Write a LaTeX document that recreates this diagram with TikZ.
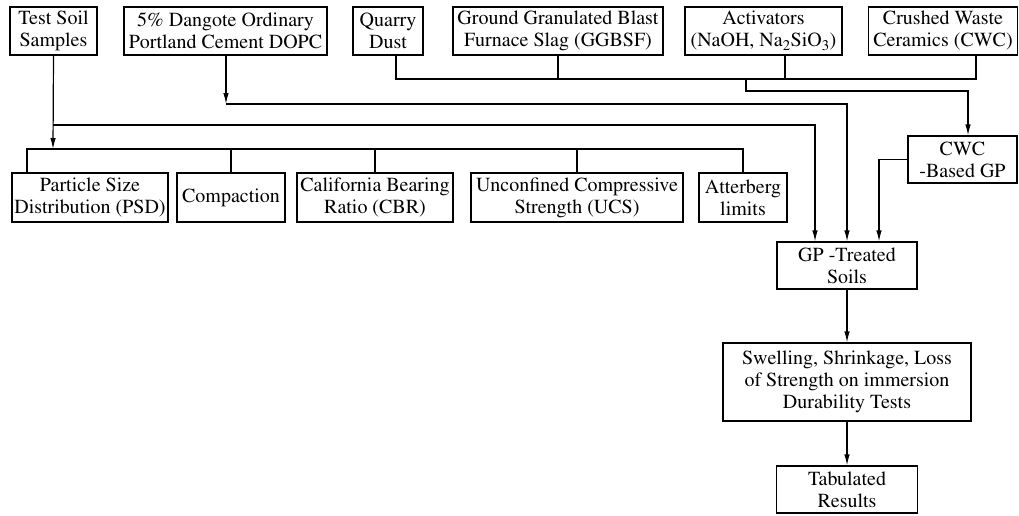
\documentclass[tikz,border=0pt]{standalone}
\usepackage[T1]{fontenc}
\usepackage{mathptmx}
\usetikzlibrary{arrows.meta}
\begin{document}
\begin{tikzpicture}[x=1pt,y=-1pt,
  box/.style={draw, line width=1.2pt, inner sep=0pt, align=center,
    font=\fontsize{20}{22}\selectfont},
  conn/.style={line width=1.2pt},
  arr/.style={conn,-{Latex[length=11pt,width=5.5pt]}}]
\useasboundingbox[fill=white] (0,0) rectangle (1019,515);
% top row
\node[box, minimum width=87pt, minimum height=48pt] (ts) at (53.5,31) {Test Soil\\Samples};
\node[box, minimum width=203pt, minimum height=48pt] (dopc) at (225.5,31) {5\% Dangote Ordinary\\Portland Cement DOPC};
\node[box, minimum width=70pt, minimum height=48pt] (qd) at (388,31) {Quarry\\Dust};
\node[box, minimum width=210pt, minimum height=48pt] (ggbsf) at (558,31) {Ground Granulated Blast\\Furnace Slag (GGBSF)};
\node[box, minimum width=157pt, minimum height=48pt] (act) at (763.5,31) {Activators\\(NaOH, Na\textsubscript{2}SiO\textsubscript{3})};
\node[box, minimum width=149pt, minimum height=48pt] (cwc) at (943,31) {Crushed Waste\\Ceramics (CWC)};
% test row
\node[box, minimum width=156pt, minimum height=49pt] (psd) at (90,197.5) {Particle Size\\Distribution (PSD)};
\node[box, minimum width=108pt, minimum height=49pt] (comp) at (231,197.5) {Compaction};
\node[box, minimum width=156pt, minimum height=49pt] (cbr) at (375,197.5) {California Bearing\\Ratio (CBR)};
\node[box, minimum width=212pt, minimum height=49pt] (ucs) at (577,197.5) {Unconfined Compressive\\Strength (UCS)};
\node[box, minimum width=88pt, minimum height=49pt] (att) at (743,197.5) {Atterberg\\limits};
% right column
\node[box, minimum width=109pt, minimum height=47pt] (cwcgp) at (962.5,159.5) {CWC\\-Based GP};
\node[box, minimum width=140pt, minimum height=47pt] (gpt) at (847,265.5) {GP -Treated\\Soils};
\node[box, minimum width=248pt, minimum height=78pt] (sw) at (847,382) {Swelling, Shrinkage, Loss\\of Strength on immersion\\Durability Tests};
\node[box, minimum width=141pt, minimum height=47pt] (tab) at (847,489.5) {Tabulated\\Results};
% coordinates
\coordinate (tsA) at (53,125);
\coordinate (tsB) at (53,149);
\coordinate (L) at (27,149);
\coordinate (R) at (743,149);
\coordinate (dA) at (226,104);
\coordinate (q1) at (396,79);
\coordinate (a1) at (785,79);
\coordinate (c1) at (976,79);
\coordinate (m1) at (746,79);
\coordinate (m2) at (746,91);
% test soil connectors
\draw[arr] (ts.south) -- (tsB);
\draw[conn] (psd.north -| L) -- (L) -- (R) -- (att.north);
\draw[conn] (comp.north) -- (comp.north |- L);
\draw[conn] (cbr.north) -- (cbr.north |- L);
\draw[conn] (ucs.north) -- (ucs.north |- L);
\draw[arr] (tsA) -| ([xshift=-32pt]gpt.north);
% cement
\draw[arr] (dopc.south -| dA) -- (dA);
\draw[arr] (dA) -| (gpt.north);
% geopolymer ingredients
\draw[conn] (qd.south -| q1) -- (q1) -- (c1) -- (cwc.south -| c1);
\draw[conn] (ggbsf.south) -- (ggbsf.south |- q1);
\draw[conn] (act.south -| a1) -- (a1);
\draw[arr] (m1) -- (m2) -| ([xshift=5.5pt]cwcgp.north);
\draw[arr] (cwcgp.west) -| ([xshift=32pt]gpt.north);
% downstream
\draw[arr] (gpt.south) -- (sw.north);
\draw[arr] (sw.south) -- (tab.north);
\end{tikzpicture}
\end{document}
